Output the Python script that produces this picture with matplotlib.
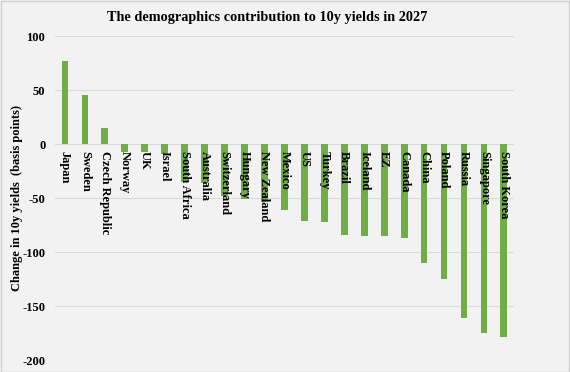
import matplotlib
matplotlib.use('Agg')
import matplotlib.pyplot as plt
from matplotlib.patches import Rectangle

countries = ['Japan', 'Sweden', 'Czech Republic', 'Norway', 'UK', 'Israel',
             'South Africa', 'Australia', 'Switzerland', 'Hungary', 'New Zealand',
             'Mexico', 'US', 'Turkey', 'Brazil', 'Iceland', 'EZ', 'Canada',
             'China', 'Poland', 'Russia', 'Singapore', 'South Korea']
values = [77, 45, 15, -7, -7, -9, -35, -36, -48, -51, -54, -61, -71, -72,
          -84, -85, -85, -87, -110, -125, -161, -175, -179]
yticks = [-200, -150, -100, -50, 0, 50, 100]

plt.rcParams['font.family'] = ['Liberation Serif', 'DejaVu Serif']
bg = '#f2f2f2'

fig = plt.figure(figsize=(5.7, 3.72), dpi=100, facecolor=bg)
ax = fig.add_axes([0.0965, 0.032, 0.805, 0.871])
ax.set_facecolor(bg)

x = list(range(len(countries)))
ax.bar(x, values, width=0.34, color='#70ad47', zorder=2)

# country names sit just under the zero line, on top of the bars
for xi, name in zip(x, countries):
    ax.text(xi, -6, name, rotation=-90, ha='center', va='top',
            fontsize=9, fontweight='bold', color='black', zorder=3)

ax.set_xlim(-0.5, len(countries) - 0.5)
ax.set_ylim(-200, 100)
ax.set_yticks(yticks)
ax.set_yticklabels([str(t) for t in yticks], fontsize=9, fontweight='bold')
ax.set_xticks([])
ax.grid(axis='y', color='#d9d9d9', linewidth=0.8, zorder=0)
ax.tick_params(axis='y', length=0, pad=7)
for s in ax.spines.values():
    s.set_visible(False)

fig.text(17 / 570, 0.032 + 0.871 / 2, 'Change in 10y yields  (basis points)',
         rotation=90, ha='center', va='center', fontsize=9, fontweight='bold')

fig.text(267 / 570, 1 - 17 / 372, 'The demographics contribution to 10y yields in 2027',
         ha='center', va='center', fontsize=10.3, fontweight='bold')

fig.patches.append(Rectangle((0.001, 0.001), 0.997, 0.996, transform=fig.transFigure,
                             fill=False, edgecolor='#d0d0d0', linewidth=1))

fig.savefig('out.png', dpi=100, facecolor=bg)
plt.close(fig)
